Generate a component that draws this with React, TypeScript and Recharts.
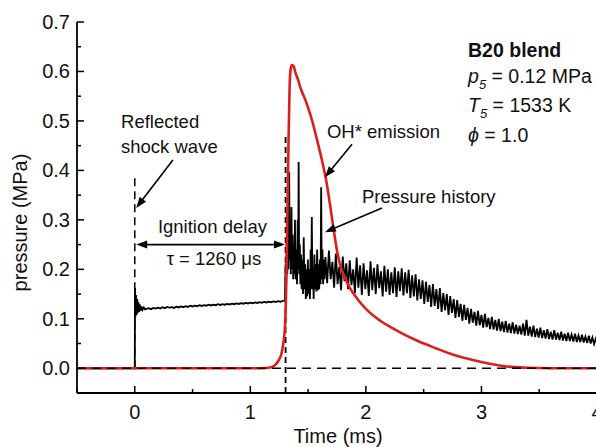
import React from 'react';
import { LineChart, Line, XAxis, YAxis, ReferenceLine, ReferenceDot } from 'recharts';

// ---- data ----
const xTicks = [-0.5, 0, 0.5, 1, 1.5, 2, 2.5, 3, 3.5, 4];
const xTickLabels = ['', '0', '', '1', '', '2', '', '3', '', '4'];
const yTicks = [-0.05, 0, 0.05, 0.1, 0.15, 0.2, 0.25, 0.3, 0.35, 0.4, 0.45, 0.5, 0.55, 0.6, 0.65, 0.7];
const yTickLabels = ['', '0.0', '', '0.1', '', '0.2', '', '0.3', '', '0.4', '', '0.5', '', '0.6', '', '0.7'];

// pressure history [time (ms), pressure (MPa)]
const pressureHistory: [number, number][] = [
  [-0.5, 0.0], [0.0, 0.0],
  [0.002, 0.162], [0.006, 0.104], [0.011, 0.148], [0.016, 0.108], [0.021, 0.14], [0.026, 0.112],
  [0.031, 0.134], [0.037, 0.114], [0.043, 0.129], [0.05, 0.116], [0.058, 0.125], [0.067, 0.118],
  [0.078, 0.123], [0.09, 0.119],
  [0.1, 0.12], [0.12, 0.1215], [0.14, 0.1195], [0.16, 0.122], [0.18, 0.1205], [0.2, 0.1225],
  [0.22, 0.121], [0.24, 0.1235], [0.26, 0.1215], [0.28, 0.124], [0.3, 0.1225], [0.32, 0.1235],
  [0.34, 0.122], [0.36, 0.1245], [0.38, 0.123], [0.4, 0.125], [0.42, 0.1235], [0.44, 0.1255],
  [0.46, 0.124], [0.48, 0.1265], [0.5, 0.125], [0.52, 0.1265], [0.54, 0.1255], [0.56, 0.1275],
  [0.58, 0.126], [0.6, 0.1275], [0.62, 0.1265], [0.64, 0.1285], [0.66, 0.127], [0.68, 0.1285],
  [0.7, 0.1275], [0.72, 0.1295], [0.74, 0.128], [0.76, 0.1295], [0.78, 0.1285], [0.8, 0.13],
  [0.82, 0.129], [0.84, 0.1305], [0.86, 0.1295], [0.88, 0.131], [0.9, 0.13], [0.92, 0.1315],
  [0.94, 0.1305], [0.96, 0.132], [0.98, 0.131], [1.0, 0.1325], [1.02, 0.1315], [1.04, 0.133],
  [1.06, 0.132], [1.08, 0.1335], [1.1, 0.1325], [1.12, 0.134], [1.14, 0.133], [1.16, 0.1345],
  [1.18, 0.1335], [1.2, 0.135], [1.22, 0.134], [1.24, 0.1355], [1.26, 0.1345], [1.28, 0.136],
  [1.295, 0.137],
  [1.3, 0.14], [1.305, 0.21], [1.31, 0.17], [1.315, 0.26], [1.32, 0.19], [1.326, 0.35],
  [1.33, 0.2], [1.336, 0.397], [1.341, 0.22], [1.346, 0.28], [1.35, 0.19], [1.356, 0.326],
  [1.361, 0.2], [1.366, 0.27], [1.371, 0.18], [1.376, 0.25], [1.381, 0.19], [1.386, 0.3],
  [1.392, 0.18], [1.398, 0.24], [1.404, 0.17], [1.41, 0.3], [1.414, 0.2], [1.418, 0.417],
  [1.423, 0.19], [1.428, 0.25], [1.433, 0.17], [1.438, 0.23], [1.444, 0.16], [1.45, 0.22],
  [1.456, 0.15], [1.462, 0.265], [1.468, 0.16], [1.474, 0.21], [1.48, 0.14], [1.486, 0.2],
  [1.492, 0.145], [1.498, 0.22], [1.504, 0.15], [1.51, 0.2], [1.516, 0.14], [1.522, 0.24],
  [1.527, 0.16], [1.532, 0.306], [1.537, 0.16], [1.542, 0.2], [1.548, 0.14], [1.554, 0.23],
  [1.56, 0.16], [1.566, 0.21], [1.572, 0.155], [1.578, 0.24], [1.584, 0.158], [1.59, 0.21],
  [1.596, 0.16], [1.602, 0.22], [1.608, 0.17], [1.613, 0.366], [1.618, 0.18], [1.624, 0.24],
  [1.63, 0.17], [1.636, 0.22], [1.642, 0.18],
  [1.65, 0.225], [1.665, 0.172], [1.68, 0.238], [1.695, 0.18], [1.71, 0.215], [1.725, 0.163],
  [1.74, 0.232], [1.755, 0.17], [1.77, 0.205], [1.785, 0.158], [1.8, 0.226], [1.815, 0.176],
  [1.83, 0.212], [1.845, 0.16], [1.86, 0.218], [1.875, 0.168], [1.89, 0.2], [1.905, 0.152],
  [1.92, 0.224], [1.935, 0.163], [1.95, 0.208], [1.965, 0.148], [1.98, 0.212], [1.995, 0.16],
  [2.01, 0.198], [2.025, 0.146], [2.04, 0.216], [2.055, 0.158], [2.07, 0.203], [2.085, 0.15],
  [2.1, 0.21], [2.115, 0.162], [2.13, 0.196], [2.145, 0.145], [2.16, 0.207], [2.175, 0.155],
  [2.19, 0.2], [2.205, 0.148], [2.22, 0.194], [2.235, 0.152], [2.25, 0.204], [2.265, 0.144],
  [2.28, 0.196], [2.295, 0.156], [2.31, 0.202], [2.325, 0.147], [2.34, 0.194], [2.355, 0.152],
  [2.37, 0.199], [2.385, 0.142], [2.4, 0.188], [2.415, 0.145], [2.43, 0.19], [2.445, 0.137],
  [2.46, 0.18], [2.475, 0.14], [2.49, 0.178], [2.505, 0.13], [2.52, 0.175], [2.535, 0.134],
  [2.55, 0.168], [2.565, 0.124], [2.58, 0.17], [2.595, 0.126], [2.61, 0.16], [2.625, 0.12],
  [2.64, 0.162], [2.655, 0.114], [2.67, 0.152], [2.685, 0.117], [2.7, 0.15], [2.715, 0.108],
  [2.73, 0.146], [2.745, 0.112], [2.76, 0.14], [2.775, 0.102], [2.79, 0.138], [2.805, 0.104],
  [2.82, 0.13], [2.835, 0.096], [2.85, 0.128], [2.865, 0.098], [2.88, 0.122], [2.895, 0.09],
  [2.91, 0.12], [2.925, 0.092], [2.94, 0.114], [2.955, 0.086], [2.97, 0.116], [2.985, 0.087],
  [3.0, 0.108], [3.015, 0.082], [3.03, 0.11], [3.045, 0.083], [3.06, 0.102], [3.075, 0.079],
  [3.09, 0.104], [3.105, 0.078], [3.12, 0.098], [3.135, 0.076], [3.15, 0.1], [3.165, 0.075],
  [3.18, 0.094], [3.195, 0.073], [3.21, 0.096], [3.225, 0.072], [3.24, 0.09], [3.255, 0.071],
  [3.27, 0.093], [3.285, 0.07], [3.3, 0.088], [3.315, 0.069], [3.33, 0.086], [3.345, 0.068],
  [3.36, 0.09], [3.375, 0.066], [3.39, 0.098], [3.405, 0.066], [3.42, 0.084], [3.435, 0.064],
  [3.45, 0.086], [3.465, 0.063], [3.48, 0.08], [3.495, 0.062], [3.51, 0.082], [3.525, 0.061],
  [3.54, 0.077], [3.555, 0.06], [3.57, 0.079], [3.585, 0.059], [3.6, 0.074], [3.615, 0.058],
  [3.63, 0.077], [3.645, 0.058], [3.66, 0.072], [3.675, 0.057], [3.69, 0.074], [3.705, 0.056],
  [3.72, 0.07], [3.735, 0.055], [3.75, 0.072], [3.765, 0.055], [3.78, 0.068], [3.795, 0.054],
  [3.81, 0.07], [3.825, 0.053], [3.84, 0.066], [3.855, 0.053], [3.87, 0.068], [3.885, 0.052],
  [3.9, 0.064], [3.915, 0.051], [3.93, 0.066], [3.945, 0.05], [3.96, 0.062], [3.975, 0.049],
  [3.99, 0.06], [4.0, 0.055],
];

// OH* emission (scaled) [time (ms), signal]
const ohEmission: [number, number][] = [
  [-0.5, 0.0], [1.1, 0.0], [1.18, 0.002], [1.22, 0.008], [1.25, 0.018], [1.27, 0.03],
  [1.285, 0.05], [1.3, 0.085], [1.31, 0.16], [1.32, 0.3], [1.33, 0.45], [1.34, 0.57],
  [1.35, 0.606], [1.36, 0.613], [1.375, 0.61], [1.39, 0.598], [1.41, 0.585], [1.44, 0.563],
  [1.48, 0.54], [1.52, 0.512], [1.56, 0.478], [1.6, 0.44], [1.63, 0.41], [1.66, 0.375],
  [1.69, 0.33], [1.72, 0.282], [1.75, 0.238], [1.78, 0.207], [1.82, 0.182], [1.86, 0.163],
  [1.93, 0.139], [2.0, 0.12], [2.1, 0.1], [2.2, 0.085], [2.3, 0.072], [2.45, 0.055],
  [2.6, 0.041], [2.75, 0.028], [2.9, 0.018], [3.05, 0.01], [3.2, 0.004], [3.4, 0.001],
  [3.6, 0.0], [4.0, 0.0],
];

const baselineSeries: [number, number][] = [[-0.5, 0.0], [4.0, 0.0]];

const toRows = (arr: [number, number][]) => arr.map(([t, v]) => ({ t, v }));
const pressureRows = toRows(pressureHistory);
const ohRows = toRows(ohEmission);
const baseRows = toRows(baselineSeries);

const FONT = '"Liberation Sans", Arial, Helvetica, sans-serif';
const AXIS_W = 1.8;

const BottomTick = (p: any) => {
  const { x, y, payload } = p;
  const v = payload.value;
  const major = Math.abs(v - Math.round(v)) < 1e-6;
  const i = xTicks.findIndex((t) => Math.abs(t - v) < 1e-9);
  return (
    <g>
      <line x1={x} y1={y} x2={x} y2={y - (major ? 7 : 4)} stroke="#000" strokeWidth={1.5} />
      {major && (
        <text x={x} y={y + 26} textAnchor="middle" fontFamily={FONT} fontSize={20} fill="#111">
          {i >= 0 ? xTickLabels[i] : ''}
        </text>
      )}
    </g>
  );
};
const TopTick = (p: any) => {
  const { x, y, payload } = p;
  const v = payload.value;
  const major = Math.abs(v - Math.round(v)) < 1e-6;
  return <line x1={x} y1={y} x2={x} y2={y + (major ? 7 : 4)} stroke="#000" strokeWidth={1.5} />;
};
const LeftTick = (p: any) => {
  const { x, y, payload } = p;
  const v = payload.value;
  const i = yTicks.findIndex((t) => Math.abs(t - v) < 1e-9);
  const label = i >= 0 ? yTickLabels[i] : '';
  const major = label !== '';
  return (
    <g>
      <line x1={x} y1={y} x2={x + (major ? 7 : 4)} y2={y} stroke="#000" strokeWidth={1.5} />
      {major && (
        <text x={x - 7} y={y + 7} textAnchor="end" fontFamily={FONT} fontSize={20} fill="#111">
          {label}
        </text>
      )}
    </g>
  );
};
const RightTick = (p: any) => {
  const { x, y, payload } = p;
  const v = payload.value;
  const i = yTicks.findIndex((t) => Math.abs(t - v) < 1e-9);
  const major = i >= 0 && yTickLabels[i] !== '';
  return <line x1={x} y1={y} x2={x - (major ? 7 : 4)} y2={y} stroke="#000" strokeWidth={1.5} />;
};

const arrowShape = (both: boolean) => (p: any) => {
  const { x1, y1, x2, y2 } = p;
  const a = Math.atan2(y2 - y1, x2 - x1);
  const L = 11;
  const W = 4;
  const head = (tx: number, ty: number, ang: number) => {
    const bx = tx - L * Math.cos(ang);
    const by = ty - L * Math.sin(ang);
    return `${tx},${ty} ${bx - W * Math.sin(ang)},${by + W * Math.cos(ang)} ${bx + W * Math.sin(ang)},${by - W * Math.cos(ang)}`;
  };
  const sx = both ? x1 + (L - 2) * Math.cos(a) : x1;
  const sy = both ? y1 + (L - 2) * Math.sin(a) : y1;
  const ex = x2 - (L - 2) * Math.cos(a);
  const ey = y2 - (L - 2) * Math.sin(a);
  return (
    <g>
      <line x1={sx} y1={sy} x2={ex} y2={ey} stroke="#000" strokeWidth={1.6} />
      <polygon points={head(x2, y2, a)} fill="#000" />
      {both && <polygon points={head(x1, y1, a + Math.PI)} fill="#000" />}
    </g>
  );
};

const textShape = (lines: string[], anchor: 'start' | 'middle' | 'end', size = 18.5, lh = 25) => (p: any) => (
  <text x={p.cx} y={p.cy} textAnchor={anchor} fontFamily={FONT} fontSize={size} fill="#111">
    {lines.map((l, i) => (
      <tspan key={i} x={p.cx} dy={i === 0 ? 0 : lh}>{l}</tspan>
    ))}
  </text>
);

const conditionsShape = (p: any) => {
  const { cx, cy } = p;
  const fs = 19.5;
  return (
    <g fontFamily={FONT} fill="#111">
      <text x={cx} y={cy} fontSize={fs} fontWeight="bold">B20 blend</text>
      <text x={cx} y={cy + 26} fontSize={fs}>
        <tspan fontStyle="italic">p</tspan>
        <tspan fontStyle="italic" fontSize={13} dy={6}>5</tspan>
        <tspan dy={-6}> = 0.12 MPa</tspan>
      </text>
      <text x={cx} y={cy + 55} fontSize={fs}>
        <tspan fontStyle="italic">T</tspan>
        <tspan fontStyle="italic" fontSize={13} dy={6}>5</tspan>
        <tspan dy={-6}> = 1533 K</tspan>
      </text>
      <text x={cx} y={cy + 85} fontSize={fs}>
        <tspan fontStyle="italic">ϕ</tspan>
        <tspan> = 1.0</tspan>
      </text>
    </g>
  );
};

const XTitle = (p: any) => {
  const vb = p.viewBox || {};
  return (
    <text x={vb.x + vb.width / 2 + 1} y={vb.y + 49.5} textAnchor="middle" fontFamily={FONT} fontSize={20} fill="#111">
      Time (ms)
    </text>
  );
};
const YTitle = (p: any) => {
  const vb = p.viewBox || {};
  const cx = vb.x + 27;
  const cy = vb.y + vb.height / 2 + 15;
  return (
    <text x={cx} y={cy} transform={`rotate(-90, ${cx}, ${cy})`} textAnchor="middle" fontFamily={FONT} fontSize={20} fill="#111">
      pressure (MPa)
    </text>
  );
};

export default function App() {
  return (
    <div style={{ position: 'absolute', left: 0, top: 0, width: 596, height: 447, overflow: 'hidden', background: '#fff' }}>
      <LineChart width={600} height={447} margin={{ top: 22, right: 3, bottom: 0, left: 0 }}>
        <XAxis
          xAxisId={0}
          dataKey="t"
          type="number"
          domain={[-0.5, 4]}
          allowDataOverflow
          ticks={xTicks}
          interval={0}
          tickSize={0}
          tickMargin={0}
          height={54}
          tickLine={false}
          axisLine={{ stroke: '#000', strokeWidth: AXIS_W }}
          tick={<BottomTick />}
          label={<XTitle />}
        />
        <XAxis
          xAxisId="top"
          orientation="top"
          dataKey="t"
          type="number"
          domain={[-0.5, 4]}
          allowDataOverflow
          ticks={xTicks}
          interval={0}
          tickSize={0}
          tickMargin={0}
          height={0}
          tickLine={false}
          axisLine={{ stroke: '#000', strokeWidth: AXIS_W }}
          tick={<TopTick />}
        />
        <YAxis
          yAxisId={0}
          type="number"
          domain={[-0.05, 0.7]}
          allowDataOverflow
          ticks={yTicks}
          interval={0}
          tickSize={0}
          tickMargin={0}
          width={77}
          tickLine={false}
          axisLine={{ stroke: '#000', strokeWidth: AXIS_W }}
          tick={<LeftTick />}
          label={<YTitle />}
        />
        <YAxis
          yAxisId="right"
          orientation="right"
          type="number"
          domain={[-0.05, 0.7]}
          allowDataOverflow
          ticks={yTicks}
          interval={0}
          tickSize={0}
          tickMargin={0}
          width={0}
          tickLine={false}
          axisLine={{ stroke: '#000', strokeWidth: AXIS_W }}
          tick={<RightTick />}
        />

        <ReferenceLine segment={[{ x: 0, y: 0 }, { x: 0, y: 0.39 }]} stroke="#000" strokeWidth={1.5} strokeDasharray="8 5" />
        <ReferenceLine segment={[{ x: 1.305, y: -0.05 }, { x: 1.305, y: 0.47 }]} stroke="#000" strokeWidth={1.8} strokeDasharray="6 4" />

        <Line data={pressureRows} dataKey="v" stroke="#000" strokeWidth={1.8} dot={false} isAnimationActive={false} type="linear" />
        <Line data={ohRows} dataKey="v" stroke="#dc1e1e" strokeWidth={2.6} dot={false} isAnimationActive={false} type="monotone" />
        <Line data={baseRows} dataKey="v" stroke="#000" strokeWidth={1.6} strokeDasharray="9 6" dot={false} isAnimationActive={false} type="linear" />

        <ReferenceLine segment={[{ x: 0.33, y: 0.421 }, { x: 0.012, y: 0.324 }]} shape={arrowShape(false)} />
        <ReferenceLine segment={[{ x: 0.012, y: 0.25 }, { x: 1.3, y: 0.25 }]} shape={arrowShape(true)} />
        <ReferenceLine segment={[{ x: 1.88, y: 0.453 }, { x: 1.646, y: 0.386 }]} shape={arrowShape(false)} />
        <ReferenceLine segment={[{ x: 2.139, y: 0.324 }, { x: 1.645, y: 0.275 }]} shape={arrowShape(false)} />

        <ReferenceDot x={-0.119} y={0.4855} r={0} shape={textShape(['Reflected', 'shock wave'], 'start')} />
        <ReferenceDot x={0.672} y={0.273} r={0} shape={textShape(['Ignition delay'], 'middle')} />
        <ReferenceDot x={0.685} y={0.208} r={0} shape={textShape(['τ = 1260 μs'], 'middle')} />
        <ReferenceDot x={1.663} y={0.4653} r={0} shape={textShape(['OH* emission'], 'start')} />
        <ReferenceDot x={1.966} y={0.334} r={0} shape={textShape(['Pressure history'], 'start')} />
        <ReferenceDot x={2.884} y={0.629} r={0} shape={conditionsShape} />
      </LineChart>
    </div>
  );
}
